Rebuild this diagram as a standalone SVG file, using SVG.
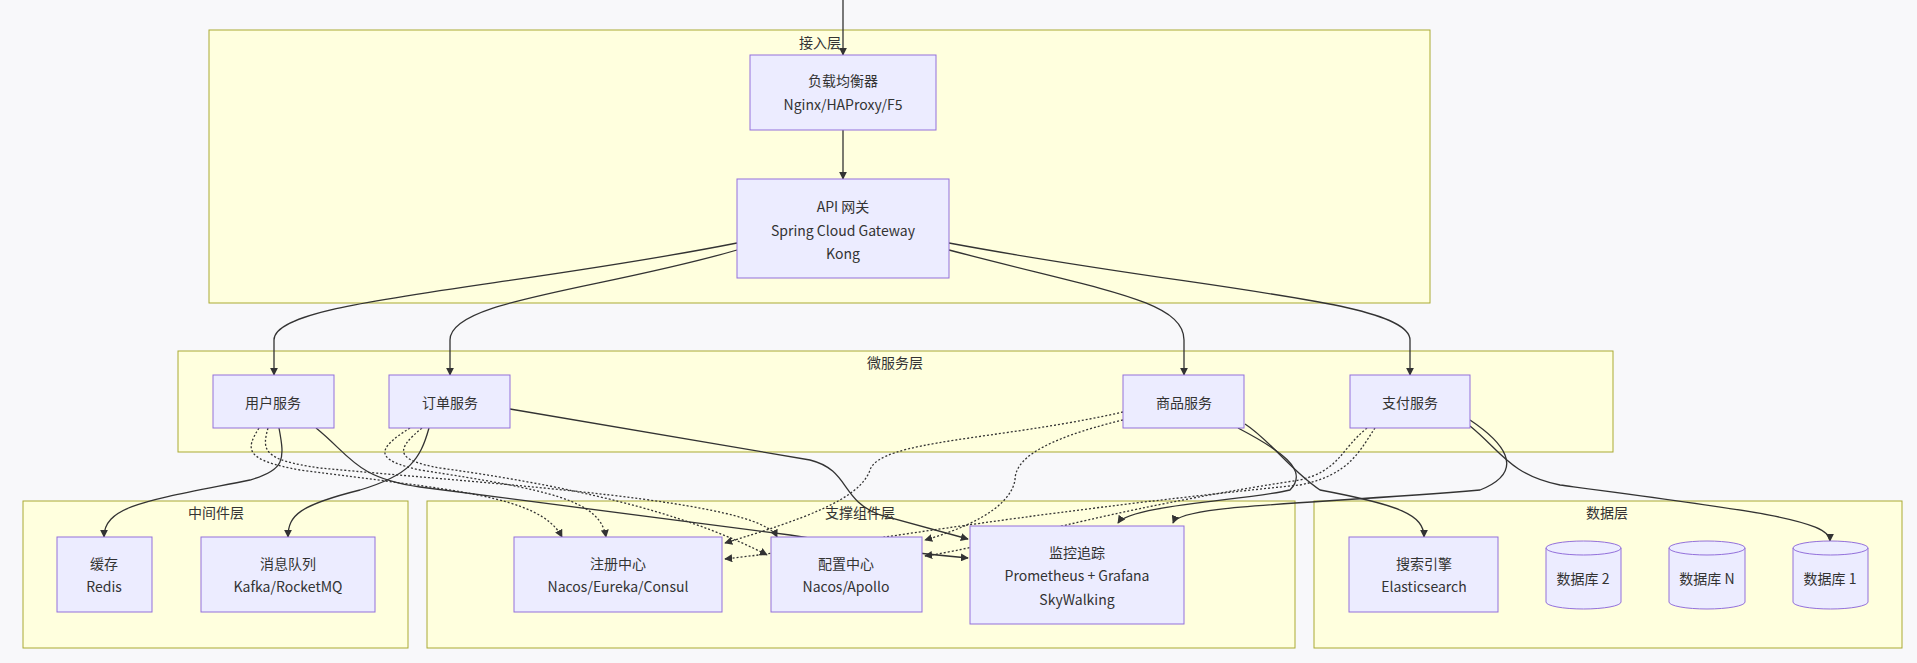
<svg xmlns="http://www.w3.org/2000/svg" width="1917" height="663" viewBox="0 0 1917 663">
<defs>
<style>
.cl{fill:#ffffde;stroke:#aaaa33;stroke-width:1}
.nd{fill:#ececff;stroke:#9370db;stroke-width:1}
text{font-family:"Noto Sans CJK SC","Liberation Sans",sans-serif;font-size:14px;fill:#333;text-anchor:middle;dominant-baseline:central}
.e{fill:none;stroke:#333;stroke-width:1.3;marker-end:url(#ah)}
.d{fill:none;stroke:#333;stroke-width:1.3;stroke-dasharray:2 2;marker-end:url(#ah)}
</style>
<marker id="ah" viewBox="0 0 10 10" refX="9" refY="5" markerWidth="8" markerHeight="8" orient="auto-start-reverse" markerUnits="userSpaceOnUse"><path d="M0,0 L10,5 L0,10 z" fill="#333"/></marker>
</defs>
<rect width="1917" height="663" fill="#f8f8fa"/>
<g id="clusters">
<g id="c-access"><rect class="cl" x="209" y="30" width="1221" height="273"/><text x="820" y="42">接入层</text></g>
<g id="c-micro"><rect class="cl" x="178" y="351" width="1435" height="101"/><text x="895" y="362">微服务层</text></g>
<g id="c-mid"><rect class="cl" x="23" y="501" width="385" height="147"/><text x="216" y="512">中间件层</text></g>
<g id="c-support"><rect class="cl" x="427" y="501" width="868" height="147"/><text x="860" y="512">支撑组件层</text></g>
<g id="c-data"><rect class="cl" x="1314" y="501" width="588" height="147"/><text x="1607" y="512">数据层</text></g>
</g>
<g id="connectors">
<path class="e" d="M843,0 L843,55"/>
<path class="e" d="M843,130 L843,179"/>
<path class="e" d="M737,243 C500,290 274,300 274,340 L274,375"/>
<path class="e" d="M737,250 C600,290 450,300 450,340 L450,375"/>
<path class="e" d="M949,250 C1100,290 1184,300 1184,340 L1184,375"/>
<path class="e" d="M949,243 C1200,290 1410,300 1410,340 L1410,375"/>
<path class="e" d="M279,428 C285,460 285,470 250,480 C150,500 104,505 104,537"/>
<path class="e" d="M429,428 C420,460 410,475 360,490 C300,505 288,515 288,537"/>
<path class="e" d="M316,428 C350,455 355,478 420,487 L790,535 C850,545 900,552 968,558"/>
<path class="e" d="M510,409 L810,460 C850,470 840,500 880,515 L968,539"/>
<path class="e" d="M1238,428 C1280,450 1310,470 1290,490 C1250,500 1130,505 1118,523"/>
<path class="e" d="M1245,424 C1270,440 1290,470 1320,490 C1400,505 1424,515 1424,537"/>
<path class="e" d="M1470,420 C1500,440 1530,470 1480,490 C1300,505 1180,505 1173,523"/>
<path class="e" d="M1470,426 C1500,450 1510,475 1560,485 C1750,510 1830,520 1830,541"/>
<path class="d" d="M259,428 C245,450 245,460 300,470 C450,490 540,495 562,537"/>
<path class="d" d="M268,428 C262,450 262,460 320,468 C500,485 760,500 777,537"/>
<path class="d" d="M410,428 C375,450 375,460 420,470 C550,490 600,500 606,537"/>
<path class="d" d="M422,428 C395,450 395,460 440,468 C600,490 700,520 767,555"/>
<path class="d" d="M1123,412 C1000,440 880,440 870,470 C860,500 800,520 725,543"/>
<path class="d" d="M1123,420 C1040,440 1015,460 1015,480 C1010,510 960,530 925,540"/>
<path class="d" d="M1367,428 C1340,450 1340,470 1300,480 C1100,510 1000,545 925,556"/>
<path class="d" d="M1375,428 C1360,450 1350,475 1300,485 C1000,515 850,545 725,559"/>
</g>
<g id="n-lb"><rect class="nd" x="750" y="55" width="186" height="75"/><text x="843" y="80">负载均衡器</text><text x="843" y="104">Nginx/HAProxy/F5</text></g>
<g id="n-api"><rect class="nd" x="737" y="179" width="212" height="99"/><text x="843" y="206">API 网关</text><text x="843" y="230">Spring Cloud Gateway</text><text x="843" y="253">Kong</text></g>
<g id="n-user"><rect class="nd" x="213" y="375" width="121" height="53"/><text x="273" y="402">用户服务</text></g>
<g id="n-order"><rect class="nd" x="389" y="375" width="121" height="53"/><text x="450" y="402">订单服务</text></g>
<g id="n-product"><rect class="nd" x="1123" y="375" width="121" height="53"/><text x="1184" y="402">商品服务</text></g>
<g id="n-pay"><rect class="nd" x="1350" y="375" width="120" height="53"/><text x="1410" y="402">支付服务</text></g>
<g id="n-cache"><rect class="nd" x="57" y="537" width="95" height="75"/><text x="104" y="563">缓存</text><text x="104" y="586">Redis</text></g>
<g id="n-mq"><rect class="nd" x="201" y="537" width="174" height="75"/><text x="288" y="563">消息队列</text><text x="288" y="586">Kafka/RocketMQ</text></g>
<g id="n-reg"><rect class="nd" x="514" y="537" width="208" height="75"/><text x="618" y="563">注册中心</text><text x="618" y="586">Nacos/Eureka/Consul</text></g>
<g id="n-conf"><rect class="nd" x="771" y="537" width="151" height="75"/><text x="846" y="563">配置中心</text><text x="846" y="586">Nacos/Apollo</text></g>
<g id="n-mon"><rect class="nd" x="970" y="526" width="214" height="98"/><text x="1077" y="552">监控追踪</text><text x="1077" y="575">Prometheus + Grafana</text><text x="1077" y="599">SkyWalking</text></g>
<g id="n-es"><rect class="nd" x="1349" y="537" width="149" height="75"/><text x="1424" y="563">搜索引擎</text><text x="1424" y="586">Elasticsearch</text></g>
<g id="n-db2"><path class="nd" d="M1546,548 A37.5,7 0 0 1 1621,548 L1621,602 A37.5,7 0 0 1 1546,602 Z"/><path class="nd" style="fill:none" d="M1546,548 A37.5,7 0 0 0 1621,548"/><text x="1583" y="578">数据库 2</text></g>
<g id="n-dbn"><path class="nd" d="M1669,548 A38,7 0 0 1 1745,548 L1745,602 A38,7 0 0 1 1669,602 Z"/><path class="nd" style="fill:none" d="M1669,548 A38,7 0 0 0 1745,548"/><text x="1707" y="578">数据库 N</text></g>
<g id="n-db1"><path class="nd" d="M1793,548 A37.5,7 0 0 1 1868,548 L1868,602 A37.5,7 0 0 1 1793,602 Z"/><path class="nd" style="fill:none" d="M1793,548 A37.5,7 0 0 0 1868,548"/><text x="1830" y="578">数据库 1</text></g>
</svg>
